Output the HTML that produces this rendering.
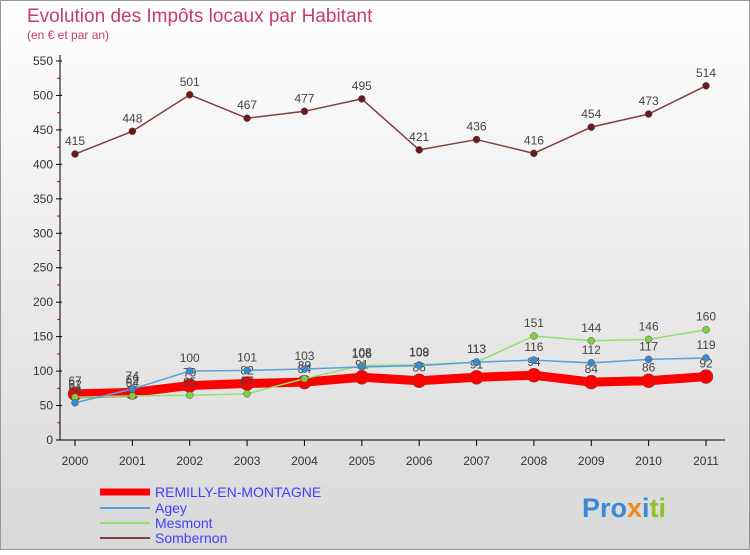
<!DOCTYPE html>
<html><head><meta charset="utf-8"><style>
body{margin:0;width:750px;height:550px;overflow:hidden;font-family:"Liberation Sans",sans-serif}
</style></head><body>
<svg id="c" width="750" height="550" xmlns="http://www.w3.org/2000/svg">
<defs><linearGradient id="bg" x1="0" y1="0" x2="0" y2="1"><stop offset="0" stop-color="#ffffff"/><stop offset="1" stop-color="#d8d8d8"/></linearGradient></defs>
<rect x="0.5" y="0.5" width="749" height="549" fill="url(#bg)" stroke="#999"/>
<text x="27" y="22" font-size="19" fill="#c83a72">Evolution des Impôts locaux par Habitant</text>
<text x="27" y="39" font-size="12" fill="#c83a72">(en € et par an)</text>
<g id="axes"></g><g id="series"></g>
<g font-size="14">
<line x1="100" y1="492" x2="150" y2="492" stroke="#f00" stroke-width="7"/>
<text x="155" y="497" fill="#4040ff">REMILLY-EN-MONTAGNE</text>
<line x1="100" y1="508" x2="150" y2="508" stroke="#5aa0d8" stroke-width="2"/>
<text x="155" y="513" fill="#4040ff">Agey</text>
<line x1="100" y1="523" x2="150" y2="523" stroke="#90e070" stroke-width="2"/>
<text x="155" y="528" fill="#4040ff">Mesmont</text>
<line x1="100" y1="538" x2="150" y2="538" stroke="#804040" stroke-width="2"/>
<text x="155" y="543" fill="#4040ff">Sombernon</text>
</g>
<text x="582" y="517" font-size="27" font-weight="bold"><tspan fill="#3a8ad8">Pro</tspan><tspan fill="#f08a20">x</tspan><tspan fill="#3a8ad8">i</tspan><tspan fill="#90c030">ti</tspan></text>
</svg>
<script>
const years=[2000,2001,2002,2003,2004,2005,2006,2007,2008,2009,2010,2011];
const yTicks=[0,50,100,150,200,250,300,350,400,450,500,550];
const remilly=[67,69,79,82,84,91,86,91,94,84,86,92];
const agey=[54,74,100,101,103,106,108,113,116,112,117,119];
const mesmont=[62,64,65,67,89,108,109,113,151,144,146,160];
const sombernon=[415,448,501,467,477,495,421,436,416,454,473,514];
const NS="http://www.w3.org/2000/svg";
const X=i=>75+i*(706-75)/(years.length-1);
const Y=v=>440-v*(440-61)/550;
function mk(t,a,p){const e=document.createElementNS(NS,t);for(const k in a)e.setAttribute(k,a[k]);p.appendChild(e);return e;}
const ax=document.getElementById('axes');
yTicks.forEach((t,i)=>{
 const g=mk('line',{x1:62,x2:748,y1:Y(t),y2:Y(t),stroke:'#fff','stroke-opacity':0},ax);
 
 const tk=mk('line',{x1:56,x2:62,y1:Y(t),y2:Y(t),stroke:'#000'},ax);
 
 if(i<yTicks.length-1){const m=mk('line',{x1:57,x2:60,y1:Y(t+25),y2:Y(t+25),stroke:'#f00'},ax);
 }
 const l=mk('text',{x:53,y:Y(t)+4,'text-anchor':'end','font-size':12,fill:'#333'},ax);l.textContent=t;
 
});
const ya=mk('line',{x1:60,x2:60,y1:55,y2:440,stroke:'#000'},ax);

const xa=mk('line',{x1:60,x2:725,y1:440,y2:440,stroke:'#000'},ax);

years.forEach((y,i)=>{
 const tk=mk('line',{x1:X(i),x2:X(i),y1:440,y2:446,stroke:'#000'},ax);
 
 const l=mk('text',{x:X(i),y:465,'text-anchor':'middle','font-size':12,fill:'#333'},ax);l.textContent=y;
 
});
const sg=document.getElementById('series');
function series(vals,name,col,w,r,dot){
 const g=mk('g',{},sg);
 const p=mk('polyline',{points:vals.map((v,i)=>X(i)+','+Y(v)).join(' '),fill:'none',stroke:col,'stroke-width':w,'stroke-linejoin':'round'},g);
 
 vals.forEach((v,i)=>{
  const c=mk('circle',{cx:X(i),cy:Y(v),r:r,fill:dot,stroke:'#555','stroke-width':0.5},g);
  
  const t=mk('text',{x:X(i),y:Y(v)-9,'text-anchor':'middle','font-size':12,fill:'#444'},g);t.textContent=v;
  
 });
}
series(sombernon,'sombernon','#804040',1.5,3.5,'#6a1a1a');
series(remilly,'remilly','#f00',9,7,'#f00');
series(mesmont,'mesmont','#90e070',1.5,3.5,'#80d040');
series(agey,'agey','#5aa0d8',1.5,3.5,'#3a88d0');
</script>
</body></html>
